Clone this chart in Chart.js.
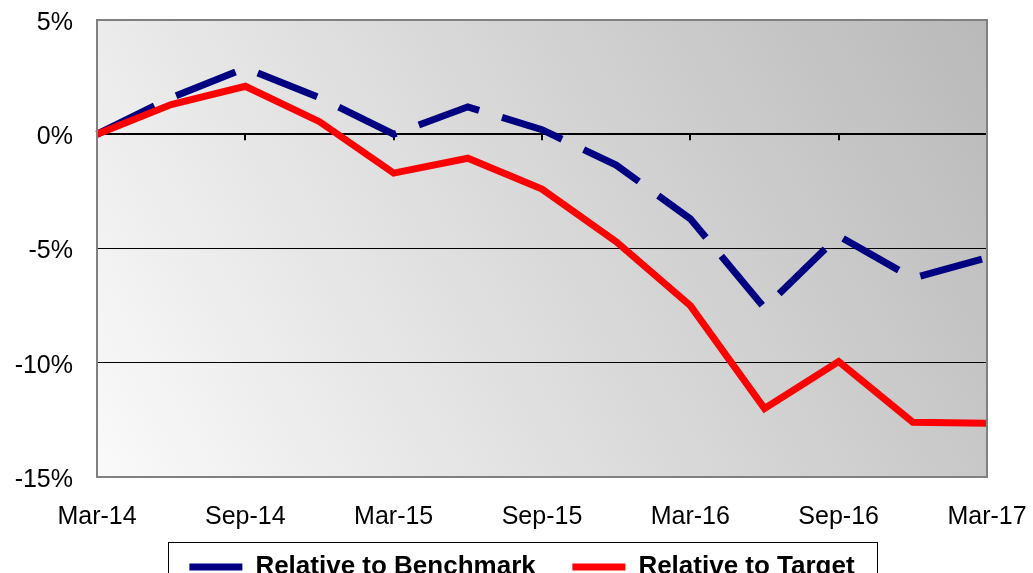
<!DOCTYPE html>
<html>
<head>
<meta charset="utf-8">
<script src="https://cdn.jsdelivr.net/npm/chart.js@4/dist/chart.umd.min.js"></script>
<style>
  html, body { margin: 0; padding: 0; background: #fff; overflow: hidden; }
  #wrap { width: 1033px; height: 590px; position: relative; }
</style>
</head>
<body>
<div id="wrap"><canvas id="relChart"></canvas></div>
<script>
// quarterly points, Mar-14 .. Mar-17
var quarters = ["Mar-14", "Jun-14", "Sep-14", "Dec-14", "Mar-15", "Jun-15", "Sep-15",
                "Dec-15", "Mar-16", "Jun-16", "Sep-16", "Dec-16", "Mar-17"];
var vsBenchmark = [0, 1.6, 2.9, 1.6, 0, 1.2, 0.2, -1.35, -3.7, -7.6, -4.45, -6.3, -5.4];
var vsTarget = [0, 1.3, 2.1, 0.55, -1.7, -1.05, -2.4, -4.7, -7.5, -12.0, -9.95, -12.6, -12.65];
var yTicks = [-15, -10, -5, 0, 5];

// where the plot box should land
var wantArea = { left: 97, top: 20, right: 987, bottom: 477 };
var legendCenter = 522;
var xAxisHeight = 57;

Chart.defaults.font.family = "'Liberation Sans', Arial, sans-serif";
Chart.defaults.color = "#000";

// tick labels would otherwise push the plot box inwards
function noOverflow(scale) {
    scale.paddingLeft = 0;
    scale.paddingRight = 0;
    scale.paddingTop = 0;
    scale.paddingBottom = 0;
}

// grey gradient behind the plot + frame + little ticks on the zero line
var plotDecor = {
    id: "plotDecor",
    afterLayout: function(chart) {
        // legend sits a bit right of the canvas centre in the original
        var lg = chart.legend;
        var dx = legendCenter - (lg.left + lg.right) / 2;
        lg.left += dx;
        lg.right += dx;
        lg.adjustHitBoxes();
    },
    beforeDraw: function(chart) {
        var a = chart.chartArea, ctx = chart.ctx;
        var w = a.right - a.left, h = a.bottom - a.top;
        // mostly left->right, a little bottom->top
        var ux = 0.862, uy = 0.507;
        var len = w * ux + h * uy;
        var g = ctx.createLinearGradient(a.left, a.bottom, a.left + ux * len, a.bottom - uy * len);
        g.addColorStop(0, "#fafafa");
        g.addColorStop(1, "#b9b9b9");
        ctx.save();
        ctx.fillStyle = g;
        ctx.fillRect(a.left, a.top, w, h);
        ctx.restore();
    },
    beforeDatasetsDraw: function(chart) {
        var ctx = chart.ctx, x = chart.scales.x, y = chart.scales.y;
        var y0 = y.getPixelForValue(0);
        ctx.save();
        ctx.strokeStyle = "#000";
        ctx.lineWidth = 2;
        for (var i = 0; i < quarters.length; i += 2) {
            var px = Math.round(x.getPixelForValue(i));
            ctx.beginPath();
            ctx.moveTo(px, y0);
            ctx.lineTo(px, y0 + 6);
            ctx.stroke();
        }
        ctx.restore();
    },
    afterDatasetsDraw: function(chart) {
        var a = chart.chartArea, ctx = chart.ctx;
        ctx.save();
        ctx.strokeStyle = "#808080";
        ctx.lineWidth = 2;
        ctx.strokeRect(a.left, a.top, a.right - a.left, a.bottom - a.top);
        ctx.restore();
    },
    afterDraw: function(chart) {
        // frame round the legend
        var lg = chart.legend, hb = lg.legendHitBoxes;
        if (!hb || !hb.length) return;
        var last = hb[hb.length - 1];
        var ctx = chart.ctx;
        ctx.save();
        ctx.strokeStyle = "#000";
        ctx.lineWidth = 1;
        ctx.strokeRect(Math.round(hb[0].left - 21) + 0.5, Math.round(lg.top) + 3.5,
                       Math.round(last.left + last.width + 23 - (hb[0].left - 21)), lg.height + 10);
        ctx.restore();
    }
};

var pad = { top: 20, left: 0, right: 46, bottom: 0 };

var relChart = new Chart(document.getElementById("relChart"), {
    type: "line",
    data: {
        labels: quarters,
        datasets: [
            {
                label: "Relative to Benchmark   ",
                data: vsBenchmark,
                borderColor: "#000080",
                backgroundColor: "#000080",
                borderWidth: 7,
                borderDash: [64, 24],
                pointRadius: 0,
                tension: 0,
                order: 1
            },
            {
                label: "Relative to Target",
                data: vsTarget,
                borderColor: "#ff0000",
                backgroundColor: "#ff0000",
                borderWidth: 7,
                pointRadius: 0,
                tension: 0,
                order: 0
            }
        ]
    },
    options: {
        responsive: true,
        maintainAspectRatio: false,
        animation: false,
        layout: { padding: pad },
        plugins: {
            tooltip: { enabled: false },
            legend: {
                position: "bottom",
                labels: {
                    font: { size: 26, weight: "bold" },
                    boxWidth: 53,
                    boxHeight: 7,
                    padding: 15,
                    generateLabels: function(chart) {
                        return chart.data.datasets.map(function(ds, i) {
                            return {
                                text: ds.label,
                                fillStyle: ds.borderColor,
                                strokeStyle: ds.borderColor,
                                lineWidth: 0,
                                lineDash: [],
                                hidden: false,
                                datasetIndex: i
                            };
                        });
                    }
                }
            }
        },
        scales: {
            x: {
                offset: false,
                grid: { display: false, drawTicks: false },
                border: { display: false },
                ticks: {
                    autoSkip: false,
                    maxRotation: 0,
                    padding: 25,
                    font: { size: 25 },
                    callback: function(v, i) { return i % 2 === 0 ? quarters[i] : ""; }
                },
                afterFit: function(scale) {
                    scale.height = xAxisHeight;
                    noOverflow(scale);
                }
            },
            y: {
                min: -15,
                max: 5,
                afterBuildTicks: function(scale) {
                    scale.ticks = yTicks.map(function(v) { return { value: v }; });
                },
                grid: {
                    drawTicks: false,
                    color: function(c) {
                        var v = c.tick.value;
                        return (v === 5 || v === -15) ? "rgba(0,0,0,0)" : "#000";
                    },
                    lineWidth: function(c) { return c.tick.value === 0 ? 2 : 1; }
                },
                border: { display: false },
                ticks: {
                    padding: 24,
                    labelOffset: 3,
                    font: { size: 25 },
                    callback: function(v) { return v + "%"; }
                },
                afterFit: function(scale) {
                    scale.width = wantArea.left - pad.left;
                    noOverflow(scale);
                }
            }
        }
    },
    plugins: [plotDecor]
});

// nudge until the plot box sits where it should
for (var k = 0; k < 2; k++) {
    var a = relChart.chartArea;
    pad.top += wantArea.top - a.top;
    pad.right += a.right - wantArea.right;
    xAxisHeight += a.bottom - wantArea.bottom;
    relChart.options.layout.padding = { top: pad.top, left: pad.left, right: pad.right, bottom: pad.bottom };
    relChart.update();
}
</script>
</body>
</html>
